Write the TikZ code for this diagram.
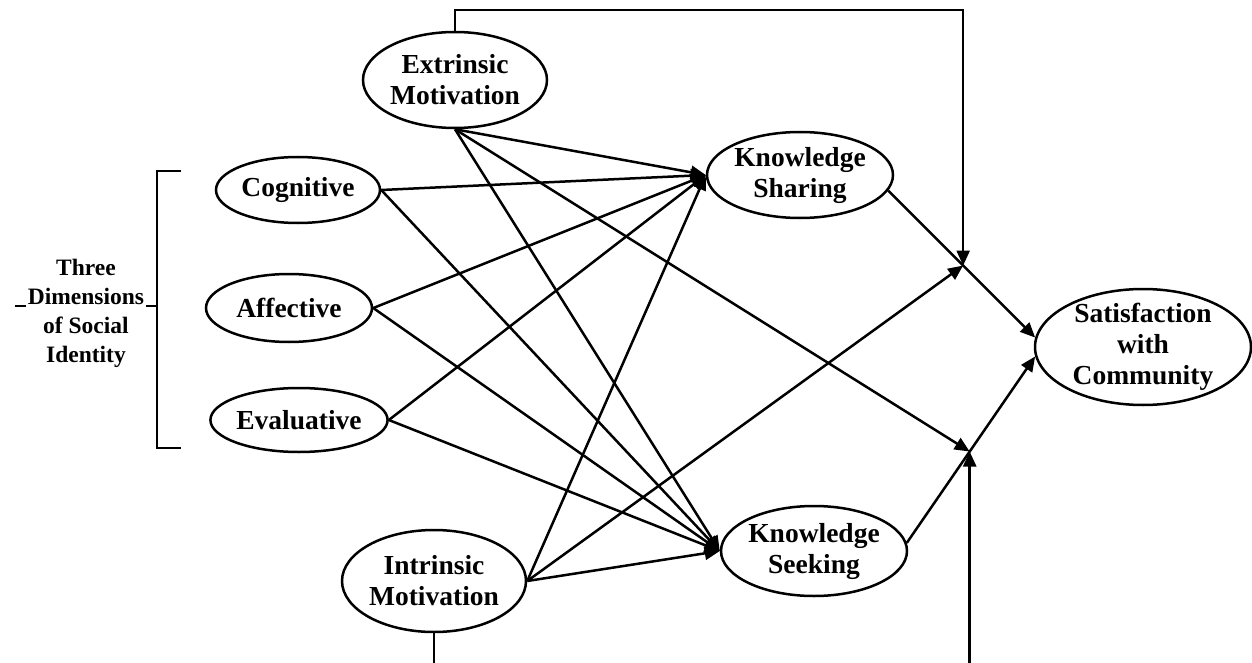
\documentclass[tikz,border=0pt]{standalone}
\usepackage{fontspec}
\setmainfont{Liberation Serif}
\usetikzlibrary{arrows.meta,calc,shapes.geometric}
\begin{document}
\begin{tikzpicture}[x=1pt,y=-1pt,
  construct/.style={ellipse,draw,line width=2.5pt,inner sep=0pt,align=center,
    font=\fontsize{27.5}{31}\selectfont\bfseries},
  link/.style={line width=2.5pt,-{Triangle[length=15pt,width=13pt]}},
  plain/.style={line width=2.5pt},
  grouplabel/.style={fill=white,inner xsep=2pt,inner ysep=0pt,align=center,
    font=\fontsize{23.5}{29}\selectfont\bfseries},
]
\clip (0,0) rectangle (1252,663);

% constructs
\node[construct,minimum width=184pt,minimum height=96pt]  (ext)   at (455,80)   {Extrinsic\\Motivation};
\node[construct,minimum width=164pt,minimum height=66pt]  (cog)   at (298,190)  {Cognitive};
\node[construct,minimum width=166pt,minimum height=68pt]  (aff)   at (289,308)  {Affective};
\node[construct,minimum width=166pt,minimum height=64pt]  (eva)   at (299,420)  {Evaluative};
\node[construct,minimum width=186pt,minimum height=86pt]  (ks)    at (800,175)  {Knowledge\\Sharing};
\node[construct,minimum width=186pt,minimum height=90pt]  (kseek) at (814,551)  {Knowledge\\Seeking};
\node[construct,minimum width=184pt,minimum height=102pt] (intr)  at (434,581)  {Intrinsic\\Motivation};
\node[construct,minimum width=216pt,minimum height=116pt,inner ysep=-3pt] (sat) at (1143,347) {Satisfaction\\with\\Community};

% bracket grouping the three identity dimensions
\draw[plain] (181,171) -- (157,171) -- (157,448) -- (181,448);
\coordinate (tickL) at (15,306);
\coordinate (tickR) at (157,306);
\draw[plain] (tickL) -- (tickR);
\node[grouplabel] (lbl) at (86,313) {Three\\Dimensions\\of Social\\Identity};

% direct effects on sharing and seeking
\foreach \src in {ext.south,cog.east,aff.east,eva.east,intr.east}{
  \draw[link] (\src) -- (ks.west);
  \draw[link] (\src) -- (kseek.west);
}

% outcome paths
\draw[link] (ks.-10) -- (sat.175);
\draw[link] (kseek.5) -- (sat.185);
\coordinate (m1) at ($(ks.-10)!0.51!(sat.175)$);
\coordinate (m2) at ($(kseek.5)!0.49!(sat.185)$);

% moderating effects
\coordinate (topy) at (0,10);
\coordinate (boty) at (0,700);
\draw[link] (ext.north) -- (ext.north |- topy) -| (m1);
\draw[link] (intr.east) -- (m1);
\draw[link] (ext.south) -- (m2);
\draw[link] (intr.south) -- (intr.south |- boty) -| (m2);
\end{tikzpicture}
\end{document}
